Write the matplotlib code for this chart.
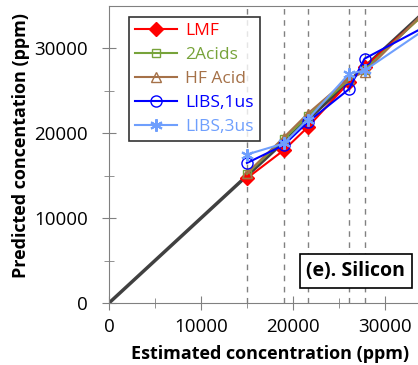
import matplotlib.pyplot as plt

plt.rcParams['font.family'] = ['Open Sans', 'DejaVu Sans']

# Estimated concentrations (ppm) and predictions for each method
x_est = [15000, 19000, 21600, 26100, 27800, 36000]
lmf = [14700, 18000, 20700, 26000, 27800, 35700]
acids2 = [15200, 19300, 22000, 26300, 27500, 35800]
hf_acid = [15300, 19500, 22300, 26500, 27200, 36160]
libs_1us = [16500, 18600, 21300, 25200, 28800, 33500]
libs_3us = [17500, 18800, 21600, 27000, 27400, 33450]
ideal = [0, 36000]
vlines = [15000, 19000, 21600, 26100, 27800]

fig = plt.figure(figsize=(4.18, 3.65), dpi=100)
# axes run past the right edge of the figure, as in the cropped original
ax = fig.add_axes([109/418, 62/365, 331/418, 297/365])

for v in vlines:
    ax.axvline(v, color="#808080", linestyle=(0, (4, 4)), linewidth=1, zorder=1)

ax.plot(ideal, ideal, color="#404040", linewidth=2.5, zorder=2)
ax.plot(x_est, lmf, color="red", marker="D", markersize=7, linewidth=1.5, label="LMF", zorder=3)
ax.plot(x_est, acids2, color="#77a33a", marker="s", markersize=6, markerfacecolor="none",
        linewidth=1.5, label="2Acids", zorder=3)
ax.plot(x_est, hf_acid, color="#a57148", marker="^", markersize=7, markerfacecolor="none",
        linewidth=1.5, label="HF Acid", zorder=3)
ax.plot(x_est, libs_1us, color="#0000ff", marker="o", markersize=8, markerfacecolor="none",
        linewidth=1.5, label="LIBS,1us", zorder=4)
ax.plot(x_est, libs_3us, color="#6f9ffd", marker=(6, 2, 0), markersize=9, markeredgewidth=1.5,
        linewidth=1.5, label="LIBS,3us", zorder=4)

ax.set_xlim(0, 36000)
ax.set_ylim(0, 35000)
ax.set_xticks([0, 10000, 20000, 30000])
ax.set_yticks([0, 10000, 20000, 30000])
ax.set_xticks([5000, 15000, 25000, 35000], minor=True)
ax.set_yticks([5000, 15000, 25000], minor=True)
ax.tick_params(which="major", direction="inout", length=10, color="#808080", labelsize=13.5)
ax.tick_params(axis="x", which="major", pad=6)
ax.tick_params(axis="y", which="major", pad=10)
ax.tick_params(which="minor", direction="inout", length=7, color="#808080")
for s in ax.spines.values():
    s.set_color("#808080")

ax.set_xlabel("Estimated concentration (ppm)", fontsize=13, fontweight="bold")
ax.xaxis.set_label_coords(0.486, -0.14)
ax.set_ylabel("Predicted concentation (ppm)", fontsize=13, fontweight="bold")
ax.yaxis.set_label_coords(-0.24, 0.53)

leg = ax.legend(loc="upper left", bbox_to_anchor=(0.06, 0.963), borderaxespad=0, fontsize=12.5,
                frameon=True, fancybox=False, edgecolor="black", handlelength=2.4,
                handletextpad=0.5, labelspacing=0.45, borderpad=0.35)
leg.get_frame().set_linewidth(1.2)
for txt, line in zip(leg.get_texts(), leg.get_lines()):
    txt.set_color(line.get_color())

ax.text(0.746, 0.108, "(e). Silicon", transform=ax.transAxes, fontsize=14, fontweight="bold",
        ha="center", va="center",
        bbox=dict(boxstyle="square,pad=0.35", facecolor="white", edgecolor="black", linewidth=1.2))

plt.savefig("out.png", dpi=100)
